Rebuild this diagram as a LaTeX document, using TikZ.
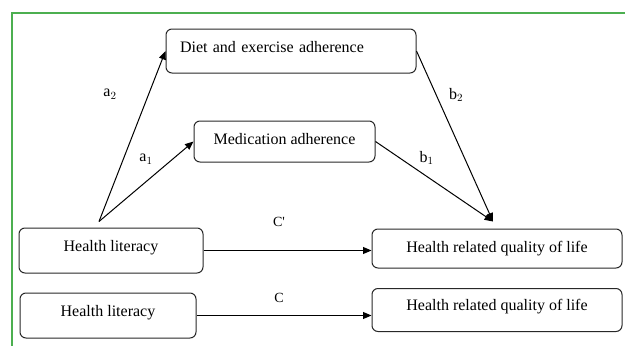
\documentclass[tikz,border=0pt]{standalone}
\usepackage{fontspec}
\setmainfont{Liberation Serif}
\usepackage{xcolor}
\usetikzlibrary{arrows.meta,positioning,calc}

\definecolor{frameGreen}{RGB}{76,175,80}
\definecolor{boxLine}{RGB}{40,40,40}

\tikzset{
  varbox/.style={draw=boxLine, line width=1pt, rounded corners=6pt,
    inner sep=0pt, font=\fontsize{16}{19}\selectfont},
  path/.style={draw, line width=1pt, -{Triangle[length=8.5pt, width=7pt]}},
  coef/.style={font=\fontsize{16}{19}\selectfont},
  total/.style={font=\fontsize{14}{17}\selectfont}
}

\begin{document}
\begin{tikzpicture}[x=1pt, y=-1pt]
  \useasboundingbox (0,0) rectangle (625,346);

  % Frame
  \draw[frameGreen, line width=2.5pt] (12,346) -- (12,13) -- (625,13);

  % Mediators
  \node[varbox, minimum width=250pt, minimum height=44pt,
    text width=222pt, align=left] (diet) at (291,51)
    {\raisebox{4pt}[\height][\depth]{Diet and exercise adherence}};
  \node[varbox, minimum width=181pt, minimum height=41pt] (med) at (284.5,141.5)
    {\raisebox{2pt}[\height][\depth]{Medication adherence}};

  % Mediated model
  \node[varbox, minimum width=184pt, minimum height=45pt] (hl1) at (111,250.5)
    {\raisebox{3pt}[\height][\depth]{Health literacy}};
  \node[varbox, minimum width=250pt, minimum height=39pt] (hrq1) at (497,248.5)
    {Health related quality of life};

  % Total effect model
  \node[varbox, minimum width=176pt, minimum height=45pt] (hl2) at (108,315.5)
    {\raisebox{3pt}[\height][\depth]{Health literacy}};
  \node[varbox, minimum width=250pt, minimum height=43pt] (hrq2) at (497,310)
    {\raisebox{3pt}[\height][\depth]{Health related quality of life}};

  % Path start and end points
  \coordinate (src) at ([xshift=-12pt, yshift=6pt]hl1.north);
  \coordinate (dst) at ([xshift=-4pt, yshift=7pt]hrq1.north);

  % Paths a and b
  \draw[path] (src) -- (diet.west);
  \draw[path] (src) -- (med.west);
  \draw[path] (diet.east) -- (dst);
  \draw[path] (med.east) -- (dst);

  % Direct and total effects
  \draw[path] (hl1.east) -- (hl1.east -| hrq1.west);
  \draw[path] (hl2.east) -- (hl2.east -| hrq2.west);

  % Coefficients
  \node[coef] (la2) at (110,94) {a$_2$};
  \node[coef] (la1) at (146,159) {a$_1$};
  \node[coef] (lb2) at (456,95) {b$_2$};
  \node[coef] (lb1) at (426.5,158) {b$_1$};
  \node[total] (lcp) at (279,222) {C\textquotesingle};
  \node[total] (lc) at (279,298) {C};
\end{tikzpicture}
\end{document}
